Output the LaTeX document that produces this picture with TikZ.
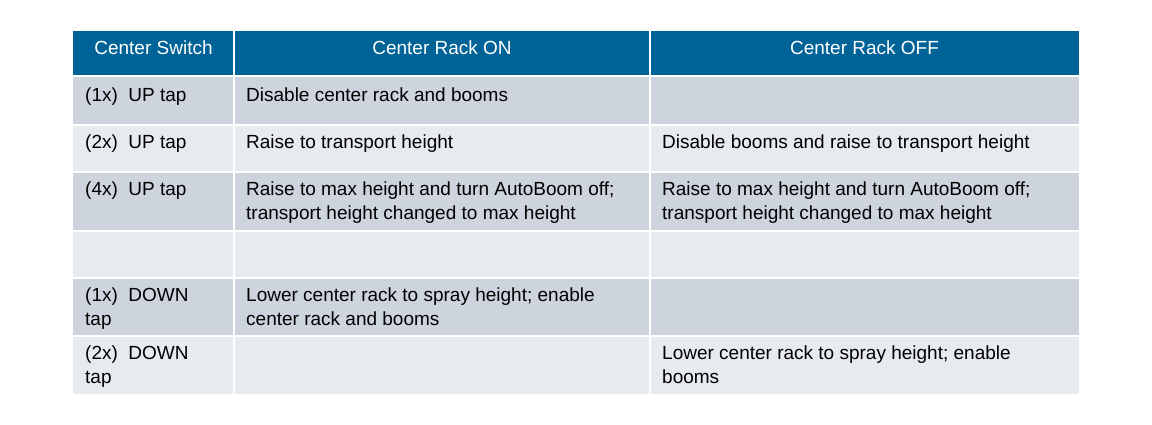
\documentclass[tikz,border=0pt]{standalone}
\usepackage{fontspec}
\setmainfont{Liberation Sans}
\definecolor{hdrblue}{RGB}{0,99,151}
\definecolor{rowdark}{RGB}{205,212,222}
\definecolor{rowlight}{RGB}{231,234,239}
\tikzset{
  hdr/.style={text=white, font=\fontsize{19}{22}\selectfont},
  cell/.style={anchor=north west, inner sep=0pt, align=left, font=\fontsize{19}{24}\selectfont},
}
\begin{document}
\begin{tikzpicture}[x=1pt,y=-1pt]
	\useasboundingbox (0,0) rectangle (1152,425);
	% background cells
	\fill[hdrblue] (73,31) rectangle (1079,76);
	\foreach \top/\bot/\col in {76/125/rowdark,125/172/rowlight,172/231/rowdark,231/278/rowlight,278/336/rowdark,336/394/rowlight}
		\fill[\col] (73,\top) rectangle (1079,\bot);
	% white rules
	\foreach \yy in {76,125,172,231,278,336}
		\draw[white, line width=2] (73,\yy) -- (1079,\yy);
	\foreach \xx in {234,650}
		\draw[white, line width=2] (\xx,31) -- (\xx,394);
	% header
	\node[hdr] (h1) at (153.5,48) {Center Switch};
	\node[hdr] (h2) at (442,48) {Center Rack ON};
	\node[hdr] (h3) at (864.5,48) {Center Rack OFF};
	% rows
	\node[cell] (a1) at (85,88) {(1x)\ \ UP tap};
	\node[cell] (b1) at (246,88) {Disable center rack and booms};
	\node[cell] (a2) at (85,135) {(2x)\ \ UP tap};
	\node[cell] (b2) at (246,135) {Raise to transport height};
	\node[cell] (c2) at (662,135) {Disable booms and raise to transport height};
	\node[cell] (a3) at (85,182) {(4x)\ \ UP tap};
	\node[cell] (b3) at (246,182) {Raise to max height and turn AutoBoom off;\\transport height changed to max height};
	\node[cell] (c3) at (662,182) {Raise to max height and turn AutoBoom off;\\transport height changed to max height};
	\node[cell] (a5) at (85,288) {(1x)\ \ DOWN\\tap};
	\node[cell] (b5) at (246,288) {Lower center rack to spray height; enable\\center rack and booms};
	\node[cell] (a6) at (85,346) {(2x)\ \ DOWN\\tap};
	\node[cell] (c6) at (662,346) {Lower center rack to spray height; enable\\booms};
\end{tikzpicture}
\end{document}
